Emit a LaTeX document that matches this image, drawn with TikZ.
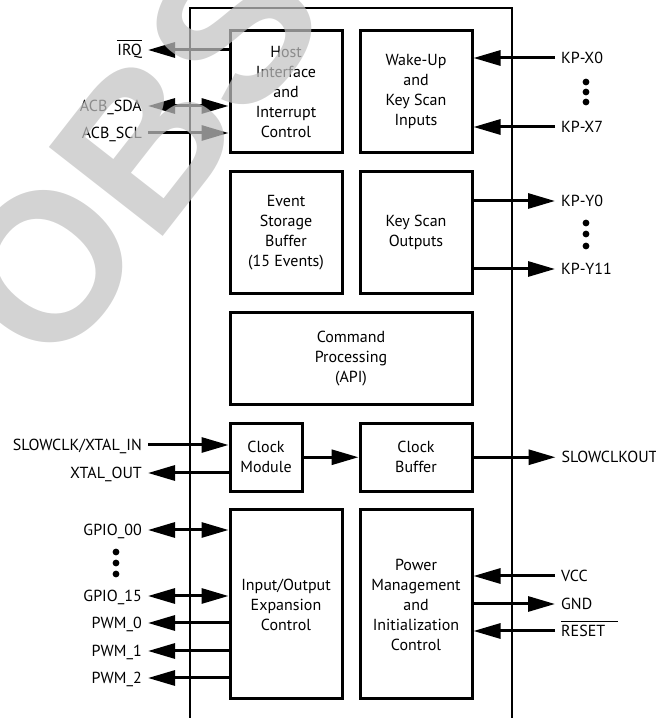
\documentclass[tikz,border=0pt]{standalone}
\usepackage{fontspec}
\setmainfont{PT Sans}
\newfontfamily\wmfont{Liberation Sans}
\usetikzlibrary{arrows.meta, positioning, calc}
\definecolor{wmgrey}{gray}{0.76}
\newcommand\ovl[2][0pt]{\setbox0\hbox{#2}\rlap{\rule[\dimexpr\ht0+3pt\relax]{\dimexpr\wd0+#1\relax}{0.9pt}}\box0}

\begin{document}
\begin{tikzpicture}[
    x=1pt, y=1pt,
    node distance=15.75pt and 15pt,
    block/.style={rectangle, draw, line width=3pt, align=center, minimum width=112pt, minimum height=122pt, inner sep=2pt, font=\fontsize{16}{20}\selectfont},
    pinl/.style={anchor=east, inner xsep=6pt, inner ysep=0pt, text height=11.2pt, text depth=0pt, font=\fontsize{16}{18}\selectfont},
    pinr/.style={pinl, anchor=west},
    sig/.style={line width=3pt, -{Triangle[length=27pt,width=15pt]}},
    bisig/.style={sig, {Triangle[length=27pt,width=15pt]}-{Triangle[length=27pt,width=15pt]}},
    chip/.style={line width=2.2pt}
]
\useasboundingbox (0,0) rectangle (656,718);

\draw [chip] (190,-10) -- (190,710) -- (512,710) -- (512,-10);

\node [block] (host) at (286,626) {Host\\Interface\\and\\Interrupt\\Control};
\node [block, right=of host] (wake) {Wake-Up\\and\\Key Scan\\Inputs};
\node [block, below=of host] (event) {Event\\Storage\\Buffer\\(15 Events)};
\node [block, right=of event] (kout) {Key Scan\\Outputs};
\node [block, minimum width=242pt, minimum height=92pt, below=of $(event.south)!.5!(kout.south)$] (cmd) {Command\\Processing\\(API)};
\node [block, minimum width=72pt, minimum height=68pt, below=of cmd.south west, anchor=north west] (clkmod) {Clock\\Module};
\node [block, minimum height=68pt, below=of cmd.south east, anchor=north east] (clkbuf) {Clock\\Buffer};
\node [block, minimum height=189pt, below=of clkmod.south west, anchor=north west] (io) {Input/Output\\Expansion\\Control};
\node [block, minimum height=189pt, right=of io] (power) {Power\\Management\\and\\Initialization\\Control};

\node [pinl] (irq) at (148,668) {\ovl{IRQ}};
\node [pinl] (sda) at (148,612) {ACB\_SDA};
\node [pinl] (scl) at (148,585) {ACB\_SCL};
\node [pinl] (xin) at (148,273) {SLOWCLK/XTAL\_IN};
\node [pinl] (xout) at (148,245) {XTAL\_OUT};
\node [pinl] (gpio0) at (148,188) {GPIO\_00};
\node [pinl] (gpio15) at (148,122) {GPIO\_15};
\node [pinl] (pwm0) at (148,95) {PWM\_0};
\node [pinl] (pwm1) at (148,67) {PWM\_1};
\node [pinl] (pwm2) at (148,40) {PWM\_2};

\node [pinr] (kpx0) at (555,660) {KP-X0};
\node [pinr] (kpx7) at (555,591) {KP-X7};
\node [pinr] (kpy0) at (555,517) {KP-Y0};
\node [pinr] (kpy11) at (555,449) {KP-Y11};
\node [pinr] (slowclkout) at ($(clkbuf.east)+(82pt,0)$) {SLOWCLKOUT};
\node [pinr] (vcc) at (555,142) {VCC};
\node [pinr] (gnd) at (555,114) {GND};
\node [pinr] (reset) at (555,87) {\ovl[13pt]{RESET}};

\draw [sig] (host.west |- irq) -- (irq.east);
\draw [bisig] (sda.east) -- (host.west |- sda);
\draw [sig] (scl.east) -- (host.west |- scl);
\draw [sig] (kpx0.west) -- (wake.east |- kpx0);
\draw [sig] (kpx7.west) -- (wake.east |- kpx7);
\draw [sig] (kout.east |- kpy0) -- (kpy0.west);
\draw [sig] (kout.east |- kpy11) -- (kpy11.west);
\draw [sig] (xin.east) -- (clkmod.west |- xin);
\draw [sig] (clkmod.west |- xout) -- (xout.east);
\draw [sig] (clkmod) -- (clkbuf);
\draw [sig] (clkbuf) -- (slowclkout);
\draw [bisig] (gpio0.east) -- (io.west |- gpio0);
\draw [bisig] (gpio15.east) -- (io.west |- gpio15);
\draw [sig] (io.west |- pwm0) -- (pwm0.east);
\draw [sig] (io.west |- pwm1) -- (pwm1.east);
\draw [sig] (io.west |- pwm2) -- (pwm2.east);
\draw [sig] (vcc.west) -- (power.east |- vcc);
\draw [sig] (power.east |- gnd) -- (gnd.west);
\draw [sig] (reset.west) -- (power.east |- reset);

\foreach \y in {636,626,616,495,484,472}
    \fill (586,\y) circle (3.4pt);
\foreach \y in {166,155,144}
    \fill (116,\y) circle (3.4pt);

\node [rotate=52, text=wmgrey, text opacity=0.72, inner sep=0pt, font=\wmfont\bfseries\fontsize{210}{210}\selectfont] (wm) at (137,566) {OBS};

\end{tikzpicture}
\end{document}
